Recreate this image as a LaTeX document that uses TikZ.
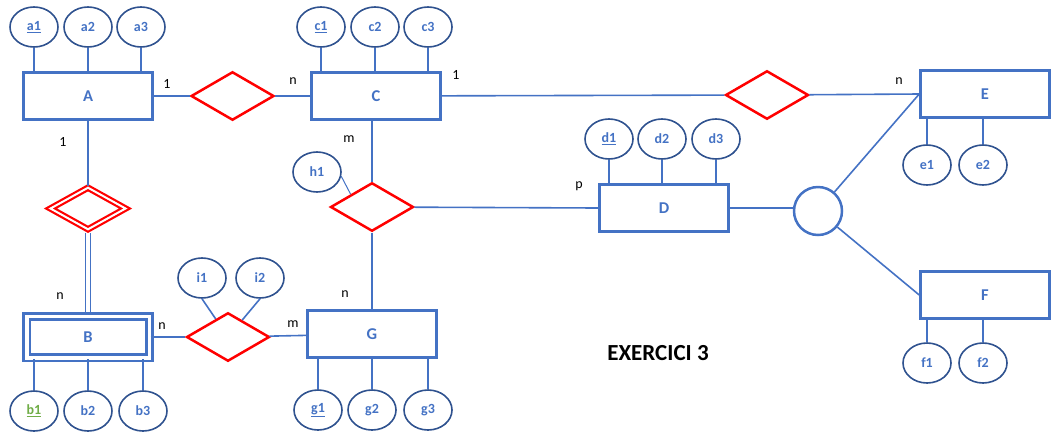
\documentclass[tikz,border=0pt]{standalone}
\usepackage{fontspec}
\setmainfont{Carlito}
\usetikzlibrary{shapes.geometric}
\definecolor{entblue}{HTML}{4472C4}
\definecolor{attrline}{HTML}{2F528F}
\definecolor{keygreen}{HTML}{70AD47}
\definecolor{relred}{HTML}{FF0000}

\begin{document}
\begin{tikzpicture}[x=1pt, y=-1pt,
    entity/.style={draw=entblue, line width=3pt, minimum width=128.5pt, minimum height=46.5pt,
        inner sep=0pt, text=entblue, font=\fontsize{16.5}{18}\selectfont\bfseries},
    weakentity/.style={entity, double, double distance=3.5pt, line width=2.6pt,
        minimum width=122.5pt, minimum height=41.5pt},
    attr/.style={draw=attrline, ellipse, line width=1.6pt, minimum width=48pt, minimum height=40pt,
        inner sep=0pt, text=entblue, font=\fontsize{14}{16}\selectfont\bfseries},
    rel/.style={draw=relred, diamond, line width=2.5pt, minimum width=83pt, minimum height=48.5pt, inner sep=0pt},
    weakrel/.style={rel, double, double distance=2pt, line width=2.2pt, minimum width=76pt, minimum height=42.5pt},
    link/.style={draw=entblue, line width=1.6pt},
    card/.style={inner sep=0pt, font=\fontsize{14}{16}\selectfont}]
    \useasboundingbox (0,0) rectangle (1051,432);

    \node[entity] (A) at (88,96) {A};
    \node[entity] (C) at (376,96) {C};
    \node[entity] (D) at (664,208) {D};
    \node[entity] (E) at (985,94) {E};
    \node[entity] (F) at (985,295) {F};
    \node[entity] (G) at (372,334) {G};
    \node[weakentity] (B) at (88,337) {B};

    \node[rel] (AC) at (232.5,96) {};
    \node[rel] (CE) at (767,95) {};
    \node[rel] (CDG) at (372,207) {};
    \node[rel] (BG) at (228,337) {};
    \node[weakrel] (AB) at (88,208.5) {};
    \node[draw=entblue, circle, line width=2.5pt, minimum size=48pt] (spec) at (818,211) {};

    \foreach \n/\x/\lab in {a1/34/{\underline{a1}}, a2/88/{a2}, a3/141/{a3}} {
        \node[attr] (\n) at (\x,27) {\lab};
        \draw[link] (\n) -- (\n |- A.north);
    }
    \foreach \n/\x/\lab in {c1/321/{\underline{c1}}, c2/375/{c2}, c3/428/{c3}} {
        \node[attr] (\n) at (\x,27) {\lab};
        \draw[link] (\n) -- (\n |- C.north);
    }
    \foreach \n/\x/\lab in {d1/609/{\underline{d1}}, d2/662/{d2}, d3/716/{d3}} {
        \node[attr] (\n) at (\x,139) {\lab};
        \draw[link] (\n) -- (\n |- D.north);
    }
    \foreach \n/\x in {e1/927, e2/983} {
        \node[attr] (\n) at (\x,165) {\n};
        \draw[link] (\n) -- (\n |- E.south);
    }
    \foreach \n/\x in {f1/927, f2/983} {
        \node[attr] (\n) at (\x,363) {\n};
        \draw[link] (\n) -- (\n |- F.south);
    }
    \foreach \n/\x/\lab in {g1/318/{\underline{g1}}, g2/372/{g2}, g3/428/{g3}} {
        \node[attr] (\n) at (\x,410) {\lab};
        \draw[link] (\n) -- (\n |- G.south);
    }
    \foreach \n/\x/\lab in {b1/34/{\color{keygreen}\underline{b1}}, b2/88/{b2}, b3/143/{b3}} {
        \node[attr] (\n) at (\x,411) {\lab};
        \draw[link] (\n) -- (\n |- B.south);
    }
    \node[attr] (h1) at (317,172) {h1};
    \node[attr] (i1) at (202,278) {i1};
    \node[attr] (i2) at (260,278) {i2};

    \draw[link] (A) -- (AC);
    \draw[link] (AC) -- (C);
    \draw[link] (C) -- (CE);
    \draw[link] (CE) -- (E.west);
    \draw[link] (CDG |- C.south) -- (CDG);
    \draw[link] (CDG) -- (D.west);
    \draw[link] (CDG) -- (G);
    \draw[link] (A) -- (AB);
    \draw[link, line width=1.7pt, double, double distance=3.4pt, shorten <=2.5pt, shorten >=3pt] (AB) -- (B);
    \draw[link] (B) -- (BG);
    \draw[link] (BG) -- (G);
    \draw[link] (D.east) -- (D.east -| spec.west);
    \draw[link] (spec) -- (E.west);
    \draw[link] (spec) -- (F.west);
    \draw[link, line width=1pt] (h1.350) -- (CDG.north west);
    \draw[link] (i1.south) -- (BG);
    \draw[link] (i2.south) -- (BG);

    \foreach \n/\x/\y/\t in {cAC/167/84/1, cCA/293/81/n, cCE/456/75/1, cEC/899/81/n,
        cAB/63/142/1, cBA/60/296/n, cBG/162/326/n, cGB/293/324/m,
        cCD/349/139/m, cGD/345/294/n, cDC/579/186/p} {
        \node[card] (\n) at (\x,\y) {\t};
    }

    \node[font=\fontsize{23}{27}\selectfont\bfseries] (title) at (658,353) {EXERCICI 3};
\end{tikzpicture}
\end{document}
